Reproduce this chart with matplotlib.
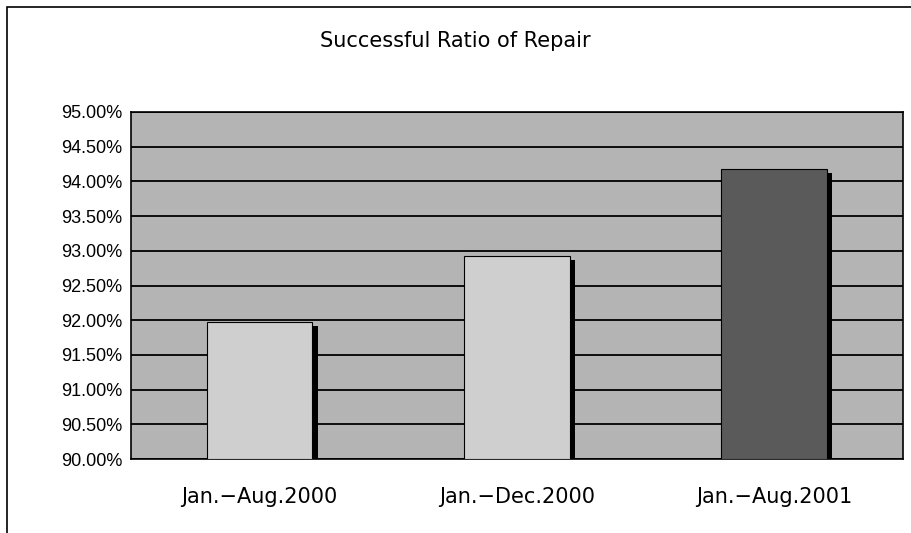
import matplotlib
matplotlib.use("Agg")
import matplotlib.pyplot as plt
import matplotlib.patheffects as pe
from matplotlib.patches import Rectangle
from matplotlib.ticker import FuncFormatter, MultipleLocator

plt.rcParams["font.family"] = ["DejaVu Sans"]

categories = ["Jan.\u2212Aug.2000", "Jan.\u2212Dec.2000", "Jan.\u2212Aug.2001"]
ratios = [91.98, 92.93, 94.18]
bar_colors = ["#cfcfcf", "#cfcfcf", "#5a5a5a"]

fig = plt.figure(figsize=(9.11, 5.33), dpi=100)
ax = fig.add_axes([0.1438, 0.1388, 0.8472, 0.6511])

ax.set_facecolor("#b4b4b4")
ax.set_xlim(-0.5, 2.5)
ax.set_ylim(90, 95)
ax.yaxis.set_major_locator(MultipleLocator(0.5))
ax.yaxis.set_major_formatter(FuncFormatter(lambda v, _: f"{v:.2f}%"))
ax.grid(axis="y", color="black", linewidth=1.3)
ax.set_axisbelow(True)

shadow = [pe.SimplePatchShadow(offset=(4, -3), shadow_rgbFace="black", alpha=1.0), pe.Normal()]
for i, (v, c) in enumerate(zip(ratios, bar_colors)):
    ax.bar(i, v - 90, bottom=90, width=0.41, color=c, edgecolor="black",
           linewidth=0.8, path_effects=shadow, zorder=3)

ax.set_xticks(range(len(categories)))
ax.set_xticklabels(categories, fontsize=15)
ax.tick_params(axis="x", length=0, pad=20)
ax.tick_params(axis="y", length=0, pad=6)
for lbl in ax.get_yticklabels():
    lbl.set_fontfamily("Liberation Sans")
    lbl.set_fontsize(13)
for s in ax.spines.values():
    s.set_color("black")
    s.set_linewidth(1.2)

fig.text(0.5, 0.912, "Successful Ratio of Repair", ha="center", va="baseline", fontsize=15)

# outer chart frame
fig.patches.append(Rectangle((0.008, -0.05), 1.05, 1.037, transform=fig.transFigure,
                             fill=False, edgecolor="black", linewidth=1.2))

fig.savefig("out.png", dpi=100)
